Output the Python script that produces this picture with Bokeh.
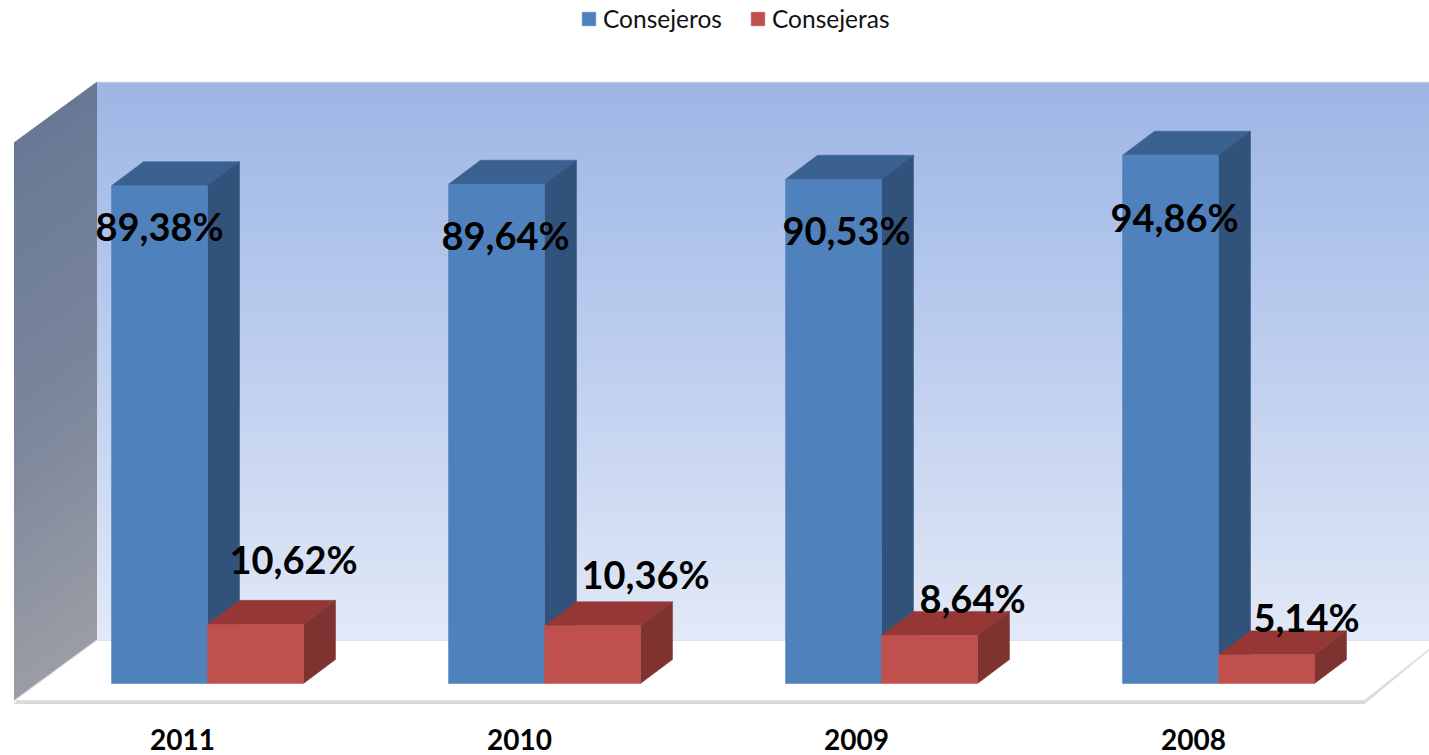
from bokeh.plotting import figure
from bokeh.models import ColumnDataSource, FixedTicker, Legend, LegendItem
from bokeh.core.properties import value
from bokeh.embed import file_html
from bokeh.resources import INLINE

years = ["2011", "2010", "2009", "2008"]
consejeros = [89.38, 89.64, 90.53, 94.86]
consejeras = [10.62, 10.36, 8.64, 5.14]
consejeros_labels = ["89,38%", "89,64%", "90,53%", "94,86%"]
consejeras_labels = ["10,62%", "10,36%", "8,64%", "5,14%"]

# geometry / style (px in the target, converted to data units)
PX_X, PX_Y = 337.0, 5.57
ORIGIN_X, ORIGIN_Y = 207.0, 683.0
FRAME_L, FRAME_R, FRAME_T, FRAME_B = 0, 1429, 0, 712
BW = 96 / PX_X
DX, DY = 32 / PX_X, 24 / PX_Y
TICK_SHIFT = round(25 / PX_X, 4)
FONT = "Lato"

def X(px): return (px - ORIGIN_X) / PX_X
def Y(px): return (ORIGIN_Y - px) / PX_Y

p = figure(frame_width=FRAME_R - FRAME_L, frame_height=FRAME_B - FRAME_T,
           x_range=(X(FRAME_L), X(FRAME_R)), y_range=(Y(FRAME_B), Y(FRAME_T)),
           output_backend="svg", toolbar_location=None, min_border=0,
           background_fill_color="white", border_fill_color="white")
p.outline_line_color = None
p.grid.visible = False
p.yaxis.visible = False

def mix(stops, t):
    for (t0, c0), (t1, c1) in zip(stops, stops[1:]):
        if t <= t1:
            f = (t - t0) / (t1 - t0)
            return "#%02x%02x%02x" % tuple(round(a + (b - a) * f) for a, b in zip(c0, c1))
    return "#%02x%02x%02x" % stops[-1][1]

# back wall gradient
N = 140
wall_top, wall_bot = Y(82), Y(640)
back = [(0, (226, 233, 247)), (0.5, (190, 206, 238)), (0.8, (170, 192, 233)), (1, (158, 181, 228))]
lat = [(0, (154, 157, 165)), (0.5, (122, 133, 155)), (1, (104, 120, 148))]
step = (wall_top - wall_bot) / N
b_vals = [wall_bot + i * step for i in range(N)]
cols = [mix(back, (i + .5) / N) for i in range(N)]
p.quad(left=X(96), right=X(1440), bottom=b_vals, top=[b + step for b in b_vals],
       fill_color=cols, line_color=cols, line_width=1)
p.line([X(96), X(1440)], [wall_top, wall_top], line_color="#c4c8d0", line_width=1.5)

# left wall gradient
x0, x1 = X(14), X(96)
dz = Y(700) - Y(640)
xs, ys, lc = [], [], []
for i in range(N):
    b, t = b_vals[i], b_vals[i] + step
    xs.append([x0, x1, x1, x0]); ys.append([b + dz, b, t, t + dz]); lc.append(mix(lat, (i + .5) / N))
p.patches(xs, ys, fill_color=lc, line_color=lc, line_width=1)

# floor
fx = [X(14), X(1364), X(1440), X(96)]
fy = [Y(700), Y(700), Y(640), Y(640)]
p.patch(fx, [v - 3 / PX_Y for v in fy[:2]] + fy[2:], fill_color="#d9d9d9", line_color="#d9d9d9", line_width=1)
p.patch(fx, fy, fill_color="white", line_color="#e2e2e2", line_width=1.2)

def box(left, vals, front, side, topc):
    l = [left[i] for i in range(len(vals))]
    r = [a + BW for a in l]
    p.patches([[a, a + DX, b + DX, b] for a, b in zip(l, r)],
              [[v, v + DY, v + DY, v] for v in vals], fill_color=topc, line_color=topc, line_width=0.5)
    p.patches([[b, b + DX, b + DX, b] for b in r],
              [[0, DY, v + DY, v] for v in vals], fill_color=side, line_color=side, line_width=0.5)
    return p.patches([[a, b, b, a] for a, b in zip(l, r)],
                     [[0, 0, v, v] for v in vals], fill_color=front, line_color=front, line_width=0.5)

pos = list(range(len(years)))
r_blue = box([i - BW for i in pos], consejeros, "#4f81bd", "#31527a", "#3a6190")
r_red = box(pos, consejeras, "#c0504d", "#7e3330", "#953835")

# value labels, hand-placed in the original
blue_off = [(0, 40), (9, 51), (13, 51), (4, 62)]
red_off = [(38, -65), (53, -52), (43, -37), (40, -38)]
src = ColumnDataSource(dict(
    x=[i - BW / 2 for i in pos] + [i + BW / 2 for i in pos],
    y=consejeros + consejeras,
    t=consejeros_labels + consejeras_labels,
    dx=[o[0] for o in blue_off + red_off],
    dy=[o[1] for o in blue_off + red_off]))
p.text("x", "y", text="t", x_offset="dx", y_offset="dy", source=src, text_align="center",
       text_baseline="middle", text_font=value(FONT), text_font_style="bold",
       text_font_size="38px", text_color="black")

# year axis
ticks = [i - TICK_SHIFT for i in pos]
ax = p.xaxis[0]
ax.ticker = FixedTicker(ticks=ticks)
ax.major_label_overrides = {t: y for t, y in zip(ticks, years)}
ax.axis_line_color = None
ax.major_tick_line_color = None
ax.minor_tick_line_color = None
ax.major_label_standoff = 10
ax.major_label_text_font = FONT
ax.major_label_text_font_style = "bold"
ax.major_label_text_font_size = "28px"
ax.major_label_text_color = "black"
p.min_border_bottom = 43

leg = Legend(items=[LegendItem(label="Consejeros", renderers=[r_blue], index=0),
                    LegendItem(label="Consejeras", renderers=[r_red], index=0)],
             orientation="horizontal", location=(580, 679), background_fill_alpha=0,
             border_line_color=None, glyph_width=17, glyph_height=17, label_standoff=6,
             spacing=27, margin=0, padding=0, label_text_font=FONT,
             label_text_font_size="24.5px", label_text_color="#111111")
p.add_layout(leg, "center")

open("out.html", "w").write(file_html(p, INLINE))
